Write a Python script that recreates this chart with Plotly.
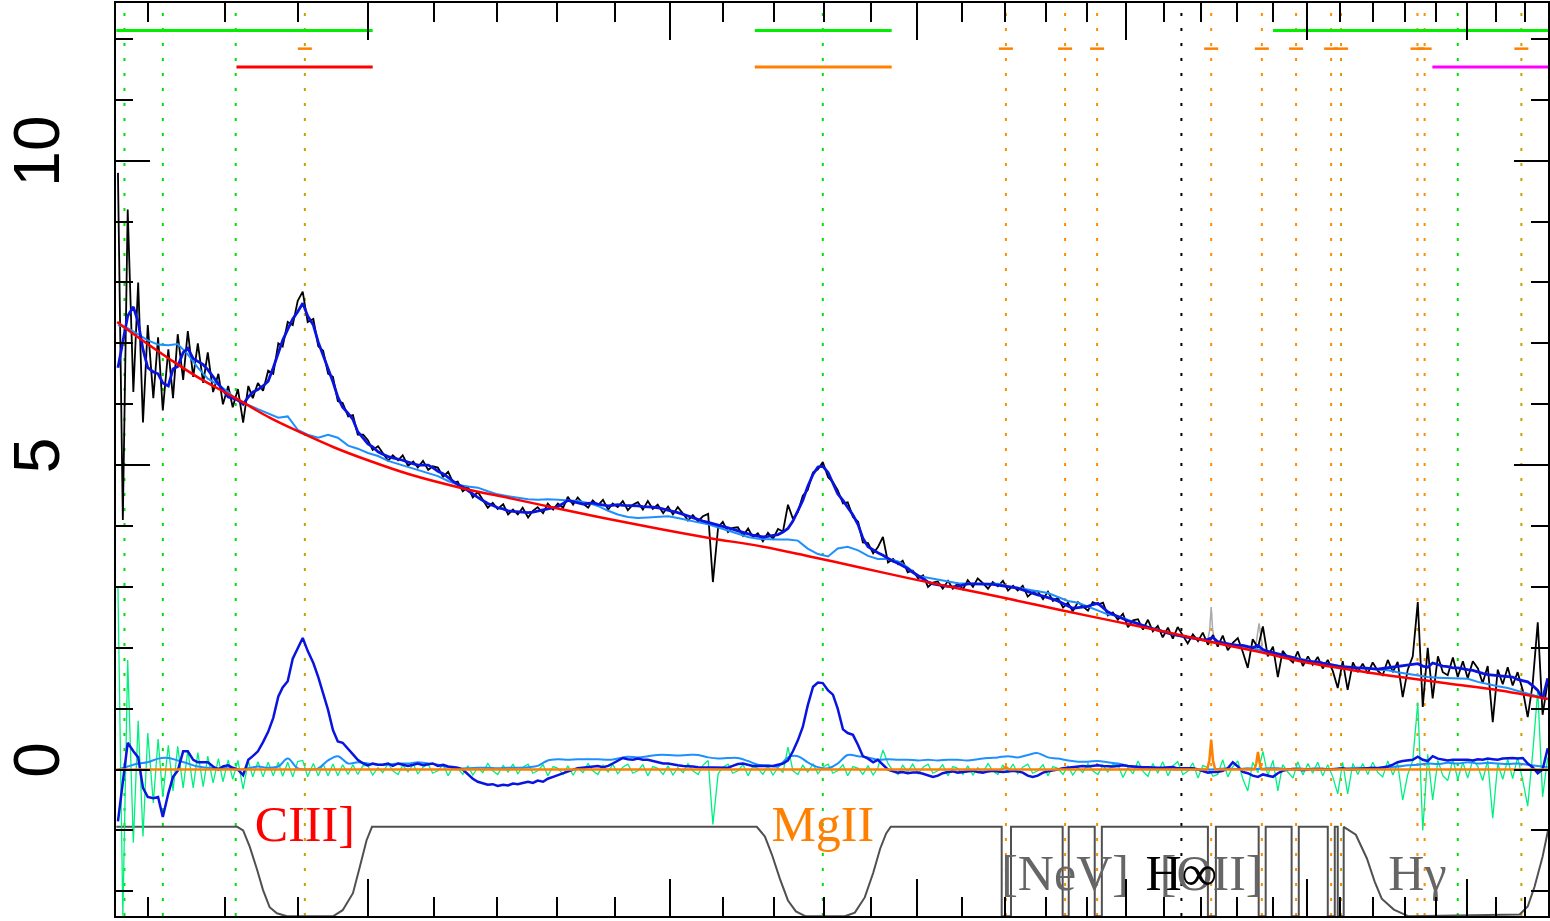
import plotly.graph_objects as go

# ---------------- data ----------------
# fine wavelength grid (Angstrom) for observed flux, model and residual
wave = [
 1663,1669,1675,1682,1688,1694,1700,1707,1713,1719,
 1726,1732,1738,1745,1751,1758,1764,1771,1777,1784,
 1791,1797,1804,1810,1817,1824,1831,1837,1844,1851,
 1858,1865,1872,1878,1885,1892,1899,1906,1913,1921,
 1928,1935,1942,1949,1956,1963,1971,1978,1985,1993,
 2000,2007,2015,2022,2030,2037,2045,2052,2060,2068,
 2075,2083,2091,2098,2106,2114,2122,2130,2137,2145,
 2153,2161,2169,2177,2185,2193,2201,2210,2218,2226,
 2234,2242,2251,2259,2267,2276,2284,2293,2301,2310,
 2318,2327,2335,2344,2353,2361,2370,2379,2388,2396,
 2405,2414,2423,2432,2441,2450,2459,2468,2477,2487,
 2496,2505,2514,2524,2533,2542,2552,2561,2571,2580,
 2590,2599,2609,2618,2628,2638,2648,2657,2667,2677,
 2687,2697,2707,2717,2727,2737,2747,2757,2767,2778,
 2788,2798,2809,2819,2829,2840,2850,2861,2872,2882,
 2893,2904,2914,2925,2936,2947,2958,2968,2979,2990,
 3002,3013,3024,3035,3046,3057,3069,3080,3091,3103,
 3114,3126,3137,3149,3161,3172,3184,3196,3208,3220,
 3231,3243,3255,3267,3279,3292,3304,3316,3328,3341,
 3353,3365,3378,3390,3403,3415,3428,3441,3453,3466,
 3479,3492,3505,3518,3531,3544,3557,3570,3583,3596,
 3610,3623,3636,3650,3663,3677,3691,3704,3718,3732,
 3745,3759,3773,3787,3801,3815,3829,3843,3858,3872,
 3886,3901,3915,3929,3944,3959,3973,3988,4003,4017,
 4032,4047,4062,4077,4092,4107,4122,4138,4153,4168,
 4184,4199,4215,4230,4246,4262,4277,4293,4309,4325,
 4341,4357,4373,4389,4406,4422,4438,4455,4471,4488,
 4504,4521,4538,4554,4571,4588,4605,4622,4639,4656,
 4673,4691,4708,4725,4743,4760,4778]

flux = [
 9.8,4.1,9.2,6.2,8.0,5.7,7.3,6.1,7.1,5.9,
 6.9,6.1,7.15,6.4,7.2,6.45,7.0,6.35,6.85,6.2,
 6.5,6.0,6.3,5.95,6.25,5.7,6.3,6.1,6.35,6.22,
 6.55,6.5,7.0,6.95,7.35,7.3,7.7,7.85,7.35,7.4,
 6.95,6.88,6.5,6.45,6.05,6.02,5.8,5.82,5.5,5.5,
 5.41,5.25,5.31,5.19,5.07,5.16,5.08,5.16,4.99,5.06,
 4.96,5.07,4.92,4.98,4.96,4.81,4.89,4.71,4.73,4.57,
 4.64,4.47,4.56,4.43,4.3,4.38,4.28,4.36,4.19,4.27,
 4.19,4.3,4.14,4.25,4.31,4.21,4.37,4.27,4.37,4.3,
 4.48,4.35,4.47,4.37,4.3,4.42,4.34,4.43,4.27,4.37,
 4.31,4.41,4.26,4.35,4.39,4.27,4.41,4.28,4.35,4.21,
 4.32,4.19,4.31,4.2,4.09,4.18,4.08,4.16,4.2,3.08,
 3.98,4.07,3.9,3.97,3.98,3.84,3.96,3.82,3.88,3.75,
 3.89,3.79,3.95,3.91,4.35,4.12,4.23,4.5,4.59,4.88,
 4.93,5.05,4.8,4.72,4.59,4.37,4.39,4.15,4.07,3.73,
 3.72,3.55,3.65,3.82,3.4,3.46,3.37,3.43,3.24,3.27,
 3.14,3.19,3.0,3.07,3.09,2.97,3.1,2.97,3.06,2.96,
 3.11,3.0,3.14,3.06,2.97,3.08,3.01,3.1,2.94,3.02,
 2.94,3.02,2.84,2.91,2.93,2.8,2.92,2.77,2.82,2.66,
 2.74,2.6,2.75,2.68,2.61,2.75,2.71,2.74,2.53,2.58,
 2.46,2.56,2.34,2.45,2.47,2.3,2.46,2.27,2.36,2.17,
 2.33,2.15,2.34,2.2,2.07,2.22,2.11,2.25,2.05,2.21,
 2.02,2.2,1.96,2.08,2.16,1.93,1.67,2.14,2.0,2.35,
 1.86,2.02,1.52,1.95,1.84,1.76,1.94,1.7,1.86,1.72,
 1.85,1.66,1.8,1.62,1.34,1.78,1.31,1.76,1.6,1.74,
 1.58,1.76,1.62,1.55,1.8,1.6,1.77,1.19,1.64,1.86,
 2.75,1.03,2.0,1.17,1.86,1.6,1.55,1.84,1.52,1.78,
 1.5,1.78,1.66,1.42,1.7,0.78,1.64,1.4,1.68,1.38,
 1.6,1.3,0.86,1.4,2.42,0.9,1.45]

model = [
 6.6,7.05,7.45,7.6,7.35,6.9,6.6,6.53,6.5,6.35,
 6.3,6.58,6.62,6.85,6.92,6.75,6.7,6.65,6.57,6.45,
 6.33,6.22,6.12,6.1,6.07,6.0,6.12,6.2,6.24,6.3,
 6.38,6.6,6.86,7.05,7.23,7.4,7.52,7.66,7.45,7.3,
 7.02,6.8,6.6,6.37,6.12,5.95,5.85,5.75,5.55,5.45,
 5.35,5.3,5.22,5.18,5.14,5.12,5.1,5.08,5.05,5.03,
 5.0,5.0,5.0,4.96,4.9,4.86,4.8,4.74,4.68,4.64,
 4.58,4.52,4.47,4.42,4.37,4.34,4.3,4.28,4.25,4.24,
 4.23,4.23,4.22,4.23,4.25,4.26,4.28,4.3,4.32,4.37,
 4.42,4.4,4.38,4.36,4.37,4.38,4.36,4.35,4.33,4.34,
 4.35,4.34,4.34,4.33,4.33,4.32,4.32,4.31,4.3,4.28,
 4.26,4.24,4.22,4.19,4.16,4.14,4.1,4.08,4.06,4.04,
 4.02,4.0,3.98,3.95,3.92,3.89,3.87,3.85,3.83,3.82,
 3.83,3.84,3.86,3.9,3.96,4.08,4.25,4.42,4.65,4.85,
 4.97,4.98,4.88,4.7,4.53,4.42,4.3,4.18,4.02,3.8,
 3.66,3.6,3.56,3.52,3.47,3.42,3.39,3.35,3.3,3.24,
 3.18,3.12,3.08,3.05,3.03,3.02,3.01,3.0,3.01,3.03,
 3.05,3.05,3.05,3.05,3.04,3.04,3.03,3.02,3.0,2.99,
 2.98,2.95,2.92,2.89,2.87,2.85,2.83,2.8,2.77,2.73,
 2.68,2.65,2.66,2.67,2.68,2.71,2.73,2.66,2.59,2.55,
 2.51,2.47,2.44,2.42,2.39,2.37,2.34,2.31,2.29,2.26,
 2.24,2.22,2.2,2.18,2.17,2.16,2.14,2.13,2.14,2.17,
 2.1,2.08,2.06,2.05,2.04,2.04,2.02,2.0,2.04,1.97,
 1.94,1.92,1.9,1.88,1.87,1.84,1.81,1.79,1.78,1.77,
 1.77,1.75,1.73,1.71,1.7,1.69,1.68,1.67,1.67,1.67,
 1.66,1.65,1.65,1.66,1.67,1.68,1.69,1.7,1.71,1.72,
 1.74,1.7,1.68,1.75,1.72,1.7,1.69,1.67,1.67,1.65,
 1.64,1.63,1.6,1.58,1.56,1.55,1.54,1.53,1.52,1.52,
 1.48,1.46,1.44,1.38,1.3,1.16,1.5]

resid = [
 3.0,-2.4,1.8,-1.2,0.8,-1.1,0.6,-0.55,0.5,-0.45,
 0.4,-0.35,0.38,-0.3,0.32,-0.3,0.28,-0.28,0.22,-0.22,
 0.18,-0.2,0.16,-0.16,0.15,-0.32,0.14,-0.12,0.13,-0.12,
 0.12,-0.1,0.12,-0.11,0.12,-0.12,0.13,0.15,-0.12,0.1,
 -0.1,0.09,-0.1,0.09,-0.1,0.08,-0.08,0.08,-0.08,0.07,
 0.06,-0.09,0.03,-0.05,0.1,-0.02,-0.08,0.07,-0.04,0.09,
 -0.07,0.04,0.09,-0.06,-0.02,0.08,-0.1,0.05,0.02,-0.08,
 0.06,-0.09,0.03,-0.05,0.1,-0.02,-0.08,0.07,-0.04,0.09,
 -0.07,0.04,0.09,-0.06,-0.02,0.08,-0.1,0.05,0.02,-0.08,
 0.06,-0.09,0.03,-0.05,0.1,-0.02,-0.08,0.07,-0.04,0.09,
 -0.07,0.04,0.09,-0.06,-0.02,0.08,-0.1,0.05,0.02,-0.08,
 0.06,-0.09,0.03,-0.05,0.1,-0.02,-0.08,0.07,0.15,-0.9,
 -0.07,0.04,0.09,-0.06,-0.02,0.08,-0.1,0.05,0.02,-0.08,
 0.06,-0.09,0.03,-0.05,0.37,-0.02,-0.08,0.07,-0.04,0.09,
 -0.07,0.04,0.09,-0.06,-0.02,0.08,-0.1,0.05,0.02,-0.08,
 0.06,-0.09,0.03,0.32,0.1,-0.02,-0.08,0.07,-0.04,0.09,
 -0.07,0.04,0.09,-0.06,-0.02,0.08,-0.1,0.05,0.02,-0.08,
 0.06,-0.09,0.03,-0.05,0.1,-0.02,-0.08,0.07,-0.04,0.09,
 -0.07,0.04,0.09,-0.06,-0.02,0.08,-0.1,0.05,0.02,-0.08,
 0.06,-0.09,0.03,-0.05,0.1,-0.02,-0.08,0.07,-0.04,0.09,
 0.08,-0.13,0.04,-0.07,0.14,-0.03,-0.11,0.1,-0.06,0.13,
 -0.1,0.06,0.13,-0.08,-0.03,0.11,-0.14,0.07,0.03,-0.11,
 -0.08,0.16,-0.12,0.05,0.14,-0.15,-0.35,0.12,-0.05,0.3,
 -0.1,0.15,-0.35,0.08,-0.04,-0.14,0.13,-0.09,0.1,-0.06,
 0.12,-0.1,0.08,-0.12,-0.4,0.12,-0.4,0.1,-0.08,0.1,
 -0.08,0.12,-0.05,-0.12,0.14,-0.09,0.1,-0.5,-0.08,0.15,
 1.1,-1.0,0.25,-0.5,0.15,-0.1,-0.18,0.17,-0.16,0.12,
 -0.14,0.16,0.05,-0.18,0.15,-0.8,0.1,-0.16,0.17,-0.15,
 0.2,-0.18,-0.6,0.25,1.3,-0.45,0.2]

broad = [
 -0.85,-0.2,0.44,0.3,0.2,-0.3,-0.45,-0.47,-0.45,-0.78,
 -0.39,-0.12,-0.02,0.3,0.3,0.16,0.12,0.12,0.12,0.05,
 0.0,0.05,0.07,0.03,0.0,-0.09,0.16,0.22,0.3,0.45,
 0.62,0.85,1.2,1.35,1.45,1.82,2.0,2.16,1.95,1.75,
 1.52,1.25,0.98,0.65,0.46,0.44,0.33,0.25,0.16,0.1,
 0.07,0.1,0.08,0.08,0.1,0.06,0.1,0.08,0.06,0.08,
 0.1,0.07,0.08,0.1,0.06,0.08,0.05,0.04,0.03,0.0,
 -0.08,-0.15,-0.2,-0.22,-0.25,-0.24,-0.27,-0.25,-0.26,-0.23,
 -0.24,-0.22,-0.2,-0.22,-0.18,-0.2,-0.15,-0.12,-0.09,-0.05,
 -0.03,0.0,0.02,0.03,0.04,0.05,0.06,0.04,0.06,0.1,
 0.15,0.19,0.17,0.16,0.18,0.16,0.16,0.14,0.12,0.1,
 0.1,0.08,0.07,0.06,0.06,0.05,0.04,0.04,0.03,0.03,
 0.03,0.04,0.03,0.06,0.09,0.1,0.08,0.06,0.06,0.06,
 0.05,0.06,0.08,0.1,0.15,0.3,0.48,0.7,1.05,1.36,
 1.43,1.42,1.3,1.23,1.0,0.66,0.6,0.57,0.4,0.22,
 0.18,0.12,0.16,0.08,0.0,-0.03,-0.05,-0.04,-0.06,-0.05,
 -0.05,-0.07,-0.1,-0.12,-0.1,-0.06,-0.04,-0.03,-0.05,-0.04,
 -0.03,-0.02,-0.04,-0.05,-0.03,-0.02,-0.03,-0.04,-0.03,-0.02,
 -0.03,-0.05,-0.1,-0.12,-0.1,-0.05,-0.03,-0.02,0.0,0.02,
 0.03,0.05,0.05,0.06,0.05,0.06,0.07,0.06,0.05,0.05,
 0.06,0.07,0.06,0.05,0.05,0.04,0.04,0.03,0.03,0.03,
 0.03,0.04,0.02,0.02,0.03,0.02,0.0,-0.02,-0.05,-0.04,
 -0.04,-0.02,0.02,0.12,0.05,-0.04,-0.06,-0.1,-0.12,-0.08,
 -0.1,-0.12,-0.06,-0.02,0.0,0.01,0.0,-0.01,0.0,0.01,
 0.0,0.01,0.0,0.0,0.01,0.02,0.0,0.0,0.01,0.02,
 0.02,0.03,0.02,0.03,0.05,0.08,0.12,0.14,0.15,0.16,
 0.21,0.16,0.14,0.22,0.18,0.16,0.15,0.16,0.16,0.17,
 0.16,0.15,0.17,0.16,0.18,0.17,0.16,0.18,0.19,0.19,
 0.18,0.19,0.1,0.04,-0.06,0.0,0.35]

# coarser grid for continuum+FeII and the FeII component
wave10 = [
 1663,1675,1688,1700,1713,1726,1738,1751,1764,1777,
 1791,1804,1817,1831,1844,1858,1872,1885,1899,1913,
 1928,1942,1956,1971,1985,2000,2015,2030,2045,2060,
 2075,2091,2106,2122,2137,2153,2169,2185,2201,2218,
 2234,2251,2267,2284,2301,2318,2335,2353,2370,2388,
 2405,2423,2441,2459,2477,2496,2514,2533,2552,2571,
 2590,2609,2628,2648,2667,2687,2707,2727,2747,2767,
 2788,2809,2829,2850,2872,2893,2914,2936,2958,2979,
 3002,3024,3046,3069,3091,3114,3137,3161,3184,3208,
 3231,3255,3279,3304,3328,3353,3378,3403,3428,3453,
 3479,3505,3531,3557,3583,3610,3636,3663,3691,3718,
 3745,3773,3801,3829,3858,3886,3915,3944,3973,4003,
 4032,4062,4092,4122,4153,4184,4215,4246,4277,4309,
 4341,4373,4406,4438,4471,4504,4538,4571,4605,4639,
 4673,4708,4743,4778]

cont_fe = [
 7.3,7.25,7.15,7.05,6.98,6.97,6.99,6.82,6.6,6.42,
 6.32,6.2,6.05,5.99,5.92,5.85,5.78,5.8,5.58,5.5,
 5.45,5.5,5.45,5.32,5.27,5.2,5.15,5.07,5.02,4.98,
 4.93,4.87,4.82,4.74,4.68,4.65,4.63,4.57,4.52,4.49,
 4.46,4.44,4.43,4.44,4.43,4.42,4.41,4.38,4.33,4.25,
 4.19,4.15,4.13,4.14,4.15,4.16,4.13,4.09,4.06,4.03,
 3.98,3.93,3.87,3.82,3.79,3.78,3.78,3.78,3.76,3.63,
 3.54,3.5,3.63,3.66,3.6,3.51,3.46,3.46,3.42,3.32,
 3.18,3.15,3.12,3.08,3.06,3.05,3.05,3.06,3.05,3.01,
 2.98,2.96,2.93,2.9,2.83,2.77,2.74,2.68,2.62,2.55,
 2.52,2.46,2.4,2.34,2.3,2.25,2.2,2.17,2.15,2.11,
 2.08,2.06,2.04,2.01,1.98,1.94,1.9,1.87,1.83,1.79,
 1.76,1.73,1.71,1.68,1.67,1.66,1.65,1.63,1.6,1.57,
 1.54,1.52,1.51,1.5,1.5,1.49,1.44,1.4,1.37,1.34,
 1.29,1.24,1.2,1.16]

feii = [
 0.0,0.05,0.1,0.12,0.18,0.19,0.15,0.1,0.05,0.03,
 0.02,0.02,0.0,0.02,0.05,0.03,0.05,0.18,0.02,0.0,
 0.02,0.15,0.22,0.1,0.12,0.1,0.08,0.08,0.1,0.1,
 0.12,0.1,0.08,0.04,0.02,0.02,0.03,0.03,0.02,0.03,
 0.03,0.04,0.06,0.15,0.17,0.16,0.17,0.17,0.17,0.16,
 0.18,0.21,0.2,0.22,0.24,0.24,0.23,0.24,0.24,0.2,
 0.18,0.19,0.19,0.14,0.08,0.07,0.05,0.2,0.22,0.12,
 0.04,0.02,0.1,0.24,0.22,0.2,0.16,0.17,0.16,0.16,
 0.15,0.16,0.15,0.16,0.16,0.15,0.17,0.19,0.2,0.22,
 0.2,0.24,0.27,0.2,0.18,0.15,0.13,0.13,0.14,0.12,
 0.1,0.06,0.03,0.02,0.01,0.01,0.0,0.0,0.0,0.0,
 0.01,0.02,0.01,0.02,0.01,0.02,0.02,0.01,0.02,0.01,
 0.02,0.01,0.02,0.02,0.03,0.02,0.03,0.04,0.05,0.07,
 0.08,0.1,0.09,0.11,0.1,0.12,0.1,0.11,0.1,0.09,
 0.1,0.08,0.06,0.04]

# power-law continuum
cont_wave = [1662,1690,1728,1767,1814,1860,1906,1951,2000,2062,2141,2224,2305,
             2391,2481,2575,2671,2771,2876,2983,3096,3212,3334,3459,3589,3724,
             3864,3980,4129,4285,4445,4613,4778]
cont = [7.35,7.08,6.74,6.42,6.1,5.78,5.52,5.29,5.08,4.85,4.63,4.45,4.28,
        4.11,3.95,3.8,3.67,3.5,3.32,3.14,2.97,2.8,2.62,2.45,2.28,2.1,
        1.93,1.78,1.64,1.52,1.41,1.3,1.16]

# narrow-line component (near zero) and masked pixels (grey)
narrow_wave = [1661,3195,3203,3211,3716,3722,3727,3732,3738,3848,3853,3858,3863,3868,4779]
narrow_flux = [0.0,0.0,0.04,0.0,0.0,0.15,0.49,0.15,0.0,0.0,0.1,0.29,0.1,0.0,0.0]
masked_wave = [3718,3723,3727,3731,3736,None,3851,3856,3861,3866,3871]
masked_flux = [2.14,2.3,2.67,2.3,2.12,None,2.0,2.2,2.4,2.2,2.02]

# fitting-window weight curve (grey)
win_wave = [1661,1816,1824,1833,1843,1851,1860,1870,1884,1949,1963,1978,1988,1998,2006,
            2665,2681,2695,2711,2727,2743,2763,2844,2865,2886,2904,2919,2932,2942,
            3193,3193,3215,3215,3340,3340,3355,3355,3420,3420,3438,3438,
            3718,3718,3740,3740,3860,3860,3880,3880,3955,3955,3976,3976,
            4062,4062,4083,4083,4092,4092,4110,4110,
            4147,4181,4205,4227,4265,4312,4680,4708,4732,4760,4779]
win_val = [-0.94,-0.94,-1.0,-1.27,-1.65,-1.98,-2.26,-2.36,-2.41,-2.41,-2.31,-2.03,-1.6,-1.16,-0.94,
           -0.94,-1.1,-1.4,-1.8,-2.15,-2.33,-2.41,-2.41,-2.35,-2.1,-1.7,-1.3,-1.05,-0.94,
           -0.94,-2.41,-2.41,-0.94,-0.94,-2.41,-2.41,-0.94,-0.94,-2.41,-2.41,-0.94,
           -0.94,-2.41,-2.41,-0.94,-0.94,-2.41,-2.41,-0.94,-0.94,-2.41,-2.41,-0.94,
           -0.94,-2.41,-2.41,-0.94,-0.94,-2.41,-2.41,-0.94,
           -1.07,-1.46,-1.84,-2.12,-2.3,-2.41,-2.38,-2.25,-1.92,-1.43,-1.0]

# line markers (Angstrom)
lines_green = [1671, 1719, 1814, 2798, 4471]
lines_gold = [1909, 4102, 4686]
lines_orange = [3203, 3346, 3426, 3727, 3869, 3968, 4072, 4340, 4363]
lines_black = [3646]
narrow_ticks = [1909, 3203, 3346, 3426, 3727, 3869, 3968, 4072, 4102, 4340, 4363, 4686]

# fitting ranges (Angstrom)
ranges_green = [(1661, 2007), (2661, 2944), (3901, 4779)]
range_red = [(1815, 2007)]
range_orange = [(2661, 2944)]
range_magenta = [(4388, 4779)]

# labels
label_text = ["CIII]", "MgII", "[NeV]", "[OII]", "H\u221e", "H\u03b3"]
label_wave = [1909, 2798, 3346, 3727, 3646, 4340]

# axis ticks
x_major = [2000, 2500, 3000, 3500, 4000, 4500]
x_minor = [w for w in range(1700, 4800, 100) if w not in x_major]
y_major = [0, 5, 10]
y_minor = [-2, -1, 1, 2, 3, 4, 6, 7, 8, 9, 11, 12]

# ---------------- figure ----------------
YLO, YHI = -2.405, 12.59


def vlines(ws):
    xs, ys = [], []
    for w in ws:
        xs += [w, w, None]
        ys += [YLO, YHI, None]
    return xs, ys


def hbars(pairs, y):
    xs, ys = [], []
    for a, b in pairs:
        xs += [a, b, None]
        ys += [y, y, None]
    return xs, ys


fig = go.Figure()
dot = "3px,12px"
for ws, col in [(lines_green, "#00e000"), (lines_gold, "#c9a000"),
                (lines_orange, "#ff8c00"), (lines_black, "#000000")]:
    xs, ys = vlines(ws)
    fig.add_trace(go.Scatter(x=xs, y=ys, mode="lines",
                             line=dict(color=col, width=2, dash=dot)))

fig.add_trace(go.Scatter(x=win_wave, y=win_val, mode="lines",
                         line=dict(color="#505050", width=2)))
fig.add_trace(go.Scatter(x=masked_wave, y=masked_flux, mode="lines",
                         line=dict(color="#aaaaaa", width=1.5)))
fig.add_trace(go.Scatter(x=wave, y=flux, mode="lines",
                         line=dict(color="#000000", width=1.8)))
fig.add_trace(go.Scatter(x=wave, y=resid, mode="lines",
                         line=dict(color="#00f080", width=1.3)))
fig.add_trace(go.Scatter(x=wave10, y=feii, mode="lines", line_shape="spline",
                         line=dict(color="#1e8fff", width=2)))
fig.add_trace(go.Scatter(x=wave, y=broad, mode="lines",
                         line=dict(color="#0a14e0", width=2.5)))
fig.add_trace(go.Scatter(x=wave10, y=cont_fe, mode="lines",
                         line=dict(color="#1e8fff", width=2)))
fig.add_trace(go.Scatter(x=wave, y=model, mode="lines",
                         line=dict(color="#0a14e0", width=2.8)))
fig.add_trace(go.Scatter(x=cont_wave, y=cont, mode="lines", line_shape="spline",
                         line=dict(color="#ff0000", width=2.5)))
fig.add_trace(go.Scatter(x=narrow_wave, y=narrow_flux, mode="lines",
                         line=dict(color="#ff8000", width=2.5)))

# fit ranges along the top
for pairs, y, col in [(ranges_green, 12.14, "#00ee00"), (range_red, 11.54, "#ff0000"),
                      (range_orange, 11.54, "#ff8000"), (range_magenta, 11.54, "#ff00ff")]:
    xs, ys = hbars(pairs, y)
    fig.add_trace(go.Scatter(x=xs, y=ys, mode="lines", line=dict(color=col, width=3)))
fig.add_trace(go.Scatter(x=narrow_ticks, y=[11.84] * len(narrow_ticks), mode="markers",
                         marker=dict(symbol="line-ew", size=10,
                                     line=dict(color="#ff8000", width=2.5))))

# labels
label_y = [-0.96, -0.96, -1.77, -1.77, -1.77, -1.77]
label_col = ["#ff0000", "#ff8000", "#666666", "#666666", "#000000", "#666666"]
fig.add_trace(go.Scatter(x=label_wave, y=label_y, mode="text", text=label_text,
                         textposition="middle center", cliponaxis=False,
                         textfont=dict(family="Liberation Serif, DejaVu Serif, serif",
                                       size=50, color=label_col)))

fig.update_layout(
    width=1550, height=921,
    margin=dict(l=116, r=2, t=3, b=5),
    paper_bgcolor="white", plot_bgcolor="white",
    showlegend=False,
    xaxis=dict(type="log", range=[3.220265, 3.679337], showgrid=False, zeroline=False,
               automargin=False,
               showline=True, linecolor="black", linewidth=2, mirror="ticks",
               ticks="inside", tickmode="array", tickvals=x_major, ticklen=37,
               tickwidth=2, tickcolor="black", showticklabels=False,
               minor=dict(tickmode="array", tickvals=x_minor, ticks="inside",
                          ticklen=19, tickwidth=2, tickcolor="black")),
    yaxis=dict(range=[YLO, YHI], showgrid=False, zeroline=False, automargin=False,
               showline=True, linecolor="black", linewidth=2, mirror="ticks",
               ticks="inside", tickmode="array", tickvals=y_major, ticktext=["0", "5", "10"],
               ticklen=34, tickwidth=2, tickcolor="black", tickangle=-90,
               ticklabelstandoff=29,
               tickfont=dict(family="Liberation Sans, Arial, sans-serif", size=64, color="black"),
               minor=dict(tickmode="array", tickvals=y_minor, ticks="inside",
                          ticklen=17, tickwidth=2, tickcolor="black")),
)

fig.write_html("out.html", config={"displayModeBar": False},
               post_script="document.body.style.margin='0';")
